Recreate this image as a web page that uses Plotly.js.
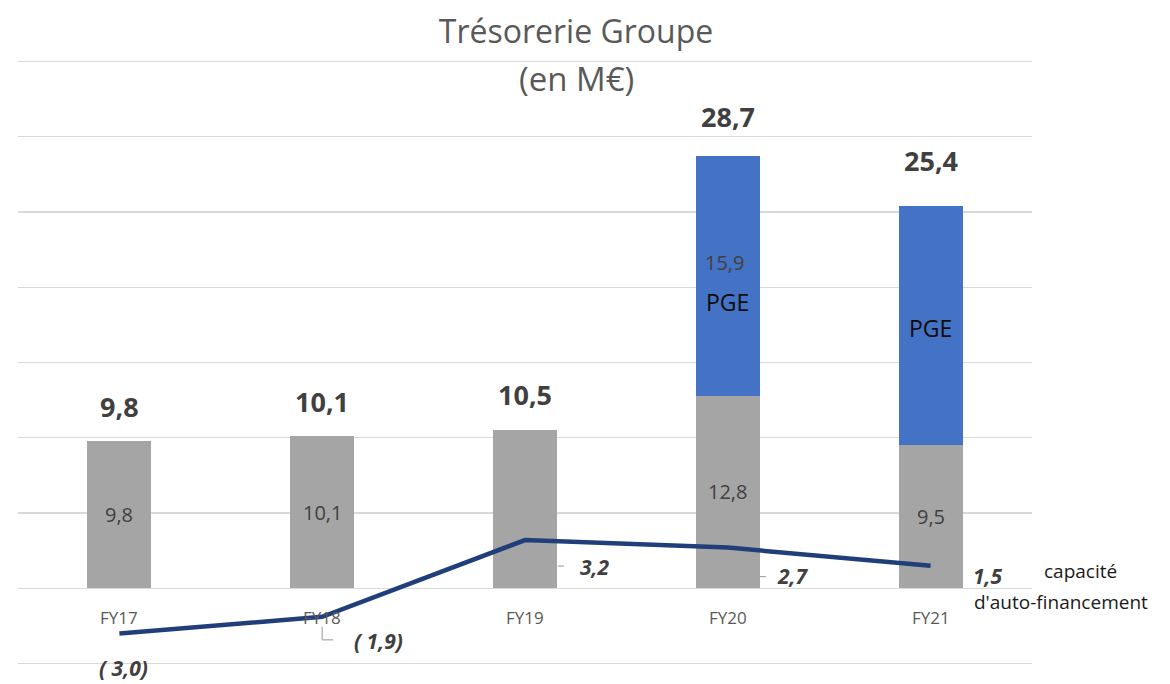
<!DOCTYPE html>
<html>
<head>
<meta charset="utf-8">
<script src="https://cdn.plot.ly/plotly-3.0.1.min.js"></script>
<style>html,body{margin:0;padding:0;background:#fff;}#chart{width:1170px;height:684px;}</style>
</head>
<body>
<div id="chart"></div>
<script>
const categories = ['FY17', 'FY18', 'FY19', 'FY20', 'FY21'];
const tresorerie = [9.8, 10.1, 10.5, 12.8, 9.5];
const pge = [null, null, null, 15.9, 15.9];
const totals = [9.8, 10.1, 10.5, 28.7, 25.4];
const caf = [-3.0, -1.9, 3.2, 2.7, 1.5];
const tresorerieLabels = ['9,8', '10,1', '', '12,8', '9,5'];
const totalLabels = ['9,8', '10,1', '10,5', '28,7', '25,4'];
const cafLabels = ['( 3,0)', '( 1,9)', '3,2', '2,7', '1,5'];

const FONT = 'Open Sans, Noto Sans, sans-serif';

const traces = [
  {
    type: 'bar', x: categories, y: tresorerie, width: 0.315,
    marker: {color: '#A5A5A5'}, hoverinfo: 'x+y'
  },
  {
    type: 'bar', x: categories, y: pge, width: 0.315,
    marker: {color: '#4472C4'}, hoverinfo: 'x+y'
  },
  {
    type: 'scatter', mode: 'lines', x: categories, y: caf,
    line: {color: '#203F7A', width: 4.5}, cliponaxis: false, hoverinfo: 'x+y'
  }
];

const annotations = [];
// category labels at zero line
categories.forEach((c) => {
  annotations.push({x: c, y: 0, xref: 'x', yref: 'y', text: c, showarrow: false,
    yshift: -29, font: {family: FONT, size: 17, color: '#595959'}});
});
// inside labels grey bars
categories.forEach((c, i) => {
  if (!tresorerieLabels[i]) return;
  annotations.push({x: c, y: tresorerie[i] / 2, xref: 'x', yref: 'y', text: tresorerieLabels[i],
    showarrow: false, font: {family: FONT, size: 20, color: '#404040'}});
});
// totals
const totalShift = [34, 35, 36, 40, 45];
categories.forEach((c, i) => {
  annotations.push({x: c, y: totals[i], xref: 'x', yref: 'y', text: '<b>' + totalLabels[i] + '</b>',
    showarrow: false, yshift: totalShift[i], font: {family: FONT, size: 27, color: '#404040'}});
});
// PGE labels
annotations.push({x: 'FY20', y: tresorerie[3] + pge[3] / 2, xref: 'x', yref: 'y', text: '15,9',
  showarrow: false, yshift: 13, xshift: -3, font: {family: FONT, size: 20, color: '#404040'}});
annotations.push({x: 'FY20', y: tresorerie[3] + pge[3] / 2, xref: 'x', yref: 'y', text: 'PGE',
  showarrow: false, yshift: -26, font: {family: FONT, size: 23, color: '#0d0d0d'}});
annotations.push({x: 'FY21', y: tresorerie[4] + pge[4] / 2, xref: 'x', yref: 'y', text: 'PGE',
  showarrow: false, yshift: -2, font: {family: FONT, size: 23, color: '#0d0d0d'}});
// CAF labels
const cafShiftX = [4, 56, 70, 65, 57];
const cafShiftY = [-35, -24, -27, -28, -10];
categories.forEach((c, i) => {
  annotations.push({x: c, y: caf[i], xref: 'x', yref: 'y', text: '<b><i>' + cafLabels[i] + '</i></b>',
    showarrow: false, xshift: cafShiftX[i], yshift: cafShiftY[i],
    font: {family: FONT, size: 21, color: '#404040'}});
});
// series name
annotations.push({x: 1.0099, y: 0.1588, xref: 'paper', yref: 'paper', xanchor: 'left', yanchor: 'middle',
  text: 'capacité', showarrow: false, font: {family: FONT, size: 19, color: '#1a1a1a'}});
annotations.push({x: 0.9408, y: 0.108, xref: 'paper', yref: 'paper', xanchor: 'left', yanchor: 'middle',
  text: "d'auto-financement", showarrow: false, font: {family: FONT, size: 19, color: '#1a1a1a'}});
// subtitle line
annotations.push({x: 0.5503, y: 1.0, xref: 'paper', yref: 'paper', xanchor: 'center', yanchor: 'middle', yshift: -21,
  text: '(en M€)', showarrow: false, font: {family: FONT, size: 33, color: '#595959'}});

// small leader lines for the CAF labels (pixel offsets from the data point)
function leader(cat, val, x0, y0, x1, y1) {
  return {type: 'line', xref: 'x', yref: 'y', xsizemode: 'pixel', ysizemode: 'pixel',
    xanchor: cat, yanchor: val, x0: x0, x1: x1, y0: y0, y1: y1,
    line: {color: '#a6a6a6', width: 1.2}};
}
const shapes = [
  leader('FY18', caf[1], 0, -10, 0, -23),
  leader('FY18', caf[1], 0, -23, 11, -23),
  leader('FY19', caf[2], 33, -26, 39, -26),
  leader('FY20', caf[3], 31, -29, 38, -29)
];

const layout = {
  width: 1170, height: 684,
  margin: {l: 18, r: 138, t: 57, b: 16, pad: 0},
  paper_bgcolor: '#ffffff', plot_bgcolor: '#ffffff',
  barmode: 'stack', showlegend: false,
  title: {text: 'Trésorerie Groupe', x: 0.4923, xanchor: 'center', y: 0.953, yanchor: 'middle',
    font: {family: FONT, size: 32, color: '#595959'}},
  xaxis: {type: 'category', range: [-0.5, 4.5], showticklabels: false, showgrid: false,
    zeroline: false, showline: false, fixedrange: true},
  yaxis: {range: [-5.3, 35.3], dtick: 5, tick0: 0, showticklabels: false, showgrid: true,
    gridcolor: '#d9d9d9', gridwidth: 1.3, zeroline: true, zerolinecolor: '#d9d9d9', zerolinewidth: 1.3,
    showline: false, fixedrange: true},
  annotations: annotations,
  shapes: shapes
};

Plotly.newPlot('chart', traces, layout, {displayModeBar: false, staticPlot: true});
</script>
</body>
</html>
